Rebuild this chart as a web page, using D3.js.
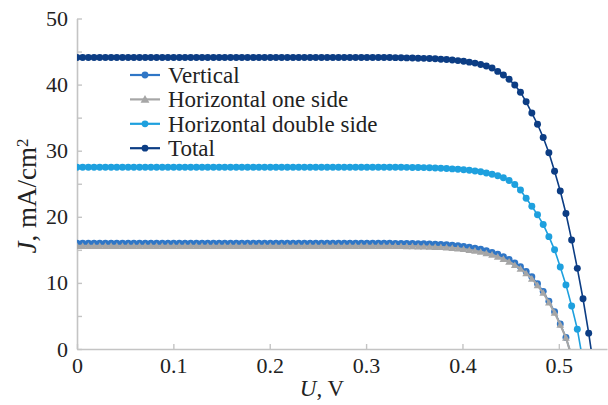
<!DOCTYPE html>
<html>
<head>
<meta charset="utf-8">
<script src="https://cdn.jsdelivr.net/npm/d3@7/dist/d3.min.js"></script>
<style>
  body { margin: 0; background: #fff; }
  svg { display: block; font-family: "Liberation Serif", "Times New Roman", serif; }
</style>
</head>
<body>
<svg id="chart" width="608" height="405"></svg>
<script>
// voltage grid, V
var voltage = [
  0, 0.0059, 0.0118, 0.0177, 0.0236, 0.0295, 0.0354, 0.0413, 0.0472, 0.0531,
  0.059, 0.0649, 0.0708, 0.0767, 0.0826, 0.0885, 0.0944, 0.1003, 0.1062, 0.1121,
  0.118, 0.1239, 0.1298, 0.1357, 0.1416, 0.1475, 0.1534, 0.1593, 0.1652, 0.1711,
  0.177, 0.1829, 0.1888, 0.1947, 0.2006, 0.2065, 0.2124, 0.2183, 0.2242, 0.2301,
  0.236, 0.2419, 0.2478, 0.2537, 0.2596, 0.2655, 0.2714, 0.2773, 0.2832, 0.2891,
  0.295, 0.3009, 0.3068, 0.3127, 0.3186, 0.3245, 0.3304, 0.3363, 0.3422, 0.3481,
  0.354, 0.3599, 0.3658, 0.3717, 0.3776, 0.3835, 0.3894, 0.3953, 0.4012, 0.4071,
  0.413, 0.4189, 0.4248, 0.4307, 0.4366, 0.4425, 0.4484, 0.4543, 0.4602, 0.4661,
  0.472, 0.4779, 0.4838, 0.4897, 0.4956, 0.5015, 0.5074, 0.5133, 0.5192, 0.5251,
  0.531, 0.5369
];

// current density, mA/cm2
var jVertical = [
  16, 16, 16, 16, 16, 16, 16, 16, 16, 16,
  16, 16, 16, 16, 16, 16, 16, 16, 16, 16,
  16, 16, 16, 16, 16, 16, 16, 16, 16, 16,
  16, 16, 16, 16, 16, 16, 16, 16, 16, 16,
  16, 16, 16, 16, 16, 16, 16, 16, 16, 16,
  16, 16, 16, 16, 16, 15.99, 15.98, 15.97, 15.96, 15.95,
  15.93, 15.91, 15.88, 15.85, 15.82, 15.76, 15.69, 15.61, 15.51, 15.38,
  15.24, 15.08, 14.87, 14.62, 14.33, 13.97, 13.54, 13.03, 12.46, 11.74,
  10.92, 9.89, 8.72, 7.21, 5.64, 3.78, 1.74, -1.1
];

var jHorOne = [
  15.6, 15.6, 15.6, 15.6, 15.6, 15.6, 15.6, 15.6, 15.6, 15.6,
  15.6, 15.6, 15.6, 15.6, 15.6, 15.6, 15.6, 15.6, 15.6, 15.6,
  15.6, 15.6, 15.6, 15.6, 15.6, 15.6, 15.6, 15.6, 15.6, 15.6,
  15.6, 15.6, 15.6, 15.6, 15.6, 15.6, 15.6, 15.6, 15.6, 15.6,
  15.6, 15.6, 15.6, 15.6, 15.6, 15.6, 15.6, 15.6, 15.6, 15.6,
  15.6, 15.6, 15.6, 15.6, 15.6, 15.59, 15.58, 15.57, 15.56, 15.55,
  15.53, 15.51, 15.48, 15.45, 15.42, 15.37, 15.3, 15.22, 15.12, 15.0,
  14.86, 14.7, 14.5, 14.26, 13.97, 13.62, 13.2, 12.7, 12.15, 11.45,
  10.65, 9.64, 8.5, 7.03, 5.5, 3.69, 1.7, -1.08
];

var jHorDouble = [
  27.5, 27.5, 27.5, 27.5, 27.5, 27.5, 27.5, 27.5, 27.5, 27.5,
  27.5, 27.5, 27.5, 27.5, 27.5, 27.5, 27.5, 27.5, 27.5, 27.5,
  27.5, 27.5, 27.5, 27.5, 27.5, 27.5, 27.5, 27.5, 27.5, 27.5,
  27.5, 27.5, 27.5, 27.5, 27.5, 27.5, 27.5, 27.5, 27.5, 27.5,
  27.5, 27.5, 27.5, 27.5, 27.5, 27.5, 27.5, 27.5, 27.5, 27.5,
  27.5, 27.5, 27.5, 27.5, 27.5, 27.5, 27.5, 27.49, 27.48, 27.47,
  27.46, 27.44, 27.42, 27.39, 27.35, 27.3, 27.25, 27.19, 27.12, 27.03,
  26.93, 26.8, 26.64, 26.44, 26.2, 25.9, 25.5, 24.9, 24.05, 22.8,
  21.6, 20.3, 18.85, 17.0, 15.0, 12.4, 9.7, 6.5, 3.0, -1.9
];

var jTotal = [
  44.1, 44.1, 44.1, 44.1, 44.1, 44.1, 44.1, 44.1, 44.1, 44.1,
  44.1, 44.1, 44.1, 44.1, 44.1, 44.1, 44.1, 44.1, 44.1, 44.1,
  44.1, 44.1, 44.1, 44.1, 44.1, 44.1, 44.1, 44.1, 44.1, 44.1,
  44.1, 44.1, 44.1, 44.1, 44.1, 44.1, 44.1, 44.1, 44.1, 44.1,
  44.1, 44.1, 44.1, 44.1, 44.1, 44.1, 44.1, 44.1, 44.1, 44.1,
  44.1, 44.1, 44.1, 44.1, 44.1, 44.1, 44.08, 44.06, 44.04, 44.02,
  44.0, 43.97, 43.94, 43.9, 43.85, 43.79, 43.72, 43.63, 43.52, 43.4,
  43.25, 43.05, 42.8, 42.5, 42.0, 41.45, 40.8, 39.95, 38.85, 37.4,
  35.7, 34.0, 32.0, 29.7, 26.9, 23.9, 20.5, 16.5, 12.2, 7.6,
  2.4, -3.4
];

var seriesNames = ["Vertical", "Horizontal one side", "Horizontal double side", "Total"];
var seriesColors = ["#2f76c6", "#a6a6a6", "#1ea0de", "#0c3d84"];
var seriesShapes = ["circle", "triangle", "circle", "circle"];
var seriesValues = [jVertical, jHorOne, jHorDouble, jTotal];

var xTicks = [0, 0.1, 0.2, 0.3, 0.4, 0.5];
var yTicks = [0, 5, 10, 15, 20, 25, 30, 35, 40, 45, 50];

var serif = "'Liberation Serif', 'Times New Roman', serif";
var svg = d3.select("#chart");
var axisColor = "#c4c4c4";

var x = d3.scaleLinear().domain([0, 0.55]).range([77, 607]);
var y = d3.scaleLinear().domain([0, 50]).range([349, 18.5]);

// clip
svg.append("defs").append("clipPath").attr("id", "plot")
  .append("rect")
  .attr("x", x(0)).attr("y", y(50) - 6)
  .attr("width", x(0.55) - x(0)).attr("height", y(0) - y(50) + 6);

// axes
var yAxis = svg.append("g")
  .attr("transform", "translate(" + x(0) + ",0)")
  .call(d3.axisLeft(y).tickValues(yTicks).tickSizeInner(-5).tickSizeOuter(0).tickPadding(9)
    .tickFormat(function(d) { return d % 10 === 0 ? d : ""; }));

var xAxis = svg.append("g")
  .attr("transform", "translate(0," + y(0) + ")")
  .call(d3.axisBottom(x).tickValues(xTicks).tickSizeInner(-5).tickSizeOuter(0).tickPadding(8)
    .tickFormat(function(d) { return d === 0 ? "0" : d3.format(".1f")(d); }));

[yAxis, xAxis].forEach(function(a) {
  a.attr("font-family", serif).attr("font-size", 22);
  a.select(".domain").attr("stroke", axisColor).attr("stroke-width", 1.6);
  a.selectAll(".tick line").attr("stroke", axisColor).attr("stroke-width", 1.4);
  a.selectAll(".tick text").attr("fill", "#222").style("font-size", "22px")
    .style("font-family", serif);
});

// curves
var symbolFor = function(shape) {
  return shape === "triangle" ? d3.symbol().type(d3.symbolTriangle).size(26)
                              : d3.symbol().type(d3.symbolCircle).size(38);
};

var plot = svg.append("g").attr("clip-path", "url(#plot)");

seriesValues.forEach(function(vals, i) {
  var pts = vals.map(function(v, k) { return [voltage[k], v]; });
  var line = d3.line().x(function(d) { return x(d[0]); }).y(function(d) { return y(d[1]); });

  var g = plot.append("g");
  g.append("path").datum(pts)
    .attr("d", line)
    .attr("fill", "none")
    .attr("stroke", seriesColors[i])
    .attr("stroke-width", i === 1 ? 2.2 : 1.6);

  g.selectAll("path.mk").data(pts).enter().append("path")
    .attr("class", "mk")
    .attr("transform", function(d) {
      var dy = seriesShapes[i] === "triangle" ? 0.8 : 0;
      return "translate(" + x(d[0]) + "," + (y(d[1]) + dy) + ")";
    })
    .attr("d", symbolFor(seriesShapes[i]))
    .attr("fill", seriesColors[i]);
});

// legend
var legend = svg.append("g");
seriesNames.forEach(function(name, i) {
  var ly = 75 + i * 24.4;
  var row = legend.append("g").attr("transform", "translate(0," + ly + ")");
  row.append("line").attr("x1", 130).attr("x2", 160).attr("y1", 0).attr("y2", 0)
    .attr("stroke", seriesColors[i]).attr("stroke-width", 2.2);
  row.append("path").attr("transform", "translate(145," + (seriesShapes[i] === "triangle" ? 0.8 : 0) + ")")
    .attr("d", seriesShapes[i] === "triangle" ? d3.symbol().type(d3.symbolTriangle).size(34)()
                                              : d3.symbol().type(d3.symbolCircle).size(36)())
    .attr("fill", seriesColors[i]);
  row.append("text").attr("x", 168).attr("y", 0).attr("dy", "0.35em")
    .style("font-family", serif).style("font-size", "23px").attr("fill", "#222").text(name);
});

// axis titles
var xt = svg.append("text").attr("x", 322).attr("y", 396).attr("text-anchor", "middle")
  .style("font-family", serif).style("font-size", "23px").attr("fill", "#222");
xt.append("tspan").style("font-style", "italic").text("U");
xt.append("tspan").text(", V");

var yt = svg.append("text").attr("transform", "translate(36,196) rotate(-90)")
  .attr("text-anchor", "middle").style("font-family", serif).style("font-size", "27px").attr("fill", "#222");
yt.append("tspan").style("font-style", "italic").text("J");
yt.append("tspan").text(", mA/cm");
yt.append("tspan").attr("dy", "-0.45em").style("font-size", "17px").text("2");
</script>
</body>
</html>
